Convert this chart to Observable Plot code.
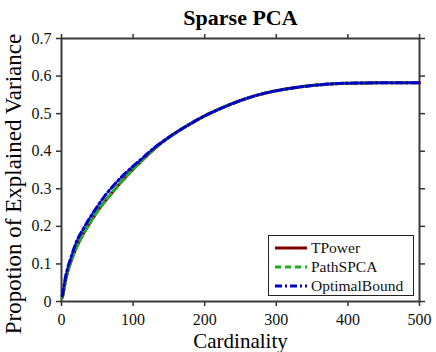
<!DOCTYPE html>
<html>
<head>
<meta charset="utf-8">
<script src="https://cdn.jsdelivr.net/npm/d3@7"></script>
<script src="https://cdn.jsdelivr.net/npm/@observablehq/plot@0.6"></script>
<style>
  html, body { margin: 0; padding: 0; background: white; }
  #wrap { position: relative; width: 436px; height: 352px; font-family: "Liberation Serif", "Times New Roman", Times, serif; }
  #legend { position: absolute; left: 268px; top: 235px; width: 144px; height: 59px; border: 1.5px solid #222; background: white; font-size: 15.5px; color: #111; }
  .row { position: absolute; left: 5px; height: 19px; display: flex; align-items: center; }
  .row svg { margin-right: 3px; }
</style>
</head>
<body>
<div id="wrap"><div id="legend"></div></div>
<script>
const titleText = "Sparse PCA";
const xLabel = "Cardinality";
const yLabel = "Propotion of Explained Variance";
const xTicks = [0, 100, 200, 300, 400, 500];
const yTicks = [0, 0.1, 0.2, 0.3, 0.4, 0.5, 0.6, 0.7];
const seriesNames = ["TPower", "PathSPCA", "OptimalBound"];
const seriesColors = ["#800000", "#1fae1f", "#0000c8"];
const seriesDash = [null, "6,4", "7,3,2,3"];

const cardinality = [1, 2, 5, 8, 12, 20, 30, 40, 50, 60, 70, 80, 90, 100, 115, 130, 150, 165, 180, 200, 225, 250, 275, 300, 325, 350, 375, 400, 450, 500];
const tpower      = [0.01, 0.017, 0.05, 0.075, 0.1, 0.14, 0.178, 0.21, 0.24, 0.265, 0.288, 0.311, 0.332, 0.352, 0.38, 0.407, 0.437, 0.456, 0.473, 0.494, 0.516, 0.535, 0.55, 0.561, 0.569, 0.575, 0.579, 0.581, 0.582, 0.582];
const pathspca    = [0.01, 0.017, 0.05, 0.075, 0.1, 0.14, 0.178, 0.21, 0.24, 0.265, 0.288, 0.311, 0.332, 0.352, 0.38, 0.407, 0.437, 0.456, 0.473, 0.494, 0.516, 0.535, 0.55, 0.561, 0.569, 0.575, 0.579, 0.581, 0.582, 0.582];
const optimal     = [0.015, 0.025, 0.06, 0.085, 0.11, 0.155, 0.192, 0.224, 0.253, 0.28, 0.303, 0.324, 0.343, 0.36, 0.385, 0.41, 0.437, 0.456, 0.473, 0.494, 0.516, 0.535, 0.55, 0.561, 0.569, 0.575, 0.579, 0.581, 0.582, 0.582];

const allSeries = [tpower, pathspca, optimal];
const data = allSeries.map(vals => cardinality.map((c, i) => ({x: c, y: vals[i]})));

const axisColor = "#333";
const font = "'Liberation Serif', 'Times New Roman', Times, serif";

const chart = Plot.plot({
  width: 436,
  height: 352,
  marginLeft: 61,
  marginRight: 17,
  marginTop: 38,
  marginBottom: 51,
  style: {fontFamily: font, fontSize: "16px", background: "white", color: "#111"},
  x: {domain: [0, 500]},
  y: {domain: [0, 0.7]},
  marks: [
    Plot.axisX({ticks: xTicks, tickSize: 5, tickPadding: 7, label: null, stroke: axisColor, strokeWidth: 1.5, fontSize: 16}),
    Plot.axisX({anchor: "top", ticks: xTicks, tickSize: 5, tickFormat: () => "", label: null, stroke: axisColor, strokeWidth: 1.5}),
    Plot.axisY({ticks: yTicks, tickSize: 5, tickPadding: 5, label: null, stroke: axisColor, strokeWidth: 1.5, fontSize: 16,
      tickFormat: d => d === 0 ? "0" : d3.format(".1f")(d)}),
    Plot.axisY({anchor: "right", ticks: yTicks, tickSize: 5, tickFormat: () => "", label: null, stroke: axisColor, strokeWidth: 1.5}),
    Plot.frame({stroke: "#3a3a3a", strokeWidth: 2}),
    ...data.map((d, i) => Plot.line(d, {
      x: "x", y: "y", stroke: seriesColors[i], strokeWidth: 3,
      strokeDasharray: seriesDash[i] || undefined, curve: "monotone-x"
    })),
    Plot.text([titleText], {frameAnchor: "top", lineAnchor: "middle", textAnchor: "middle", dy: -20.5, fontSize: 22, fontWeight: "bold", fill: "#000"}),
    Plot.text([xLabel], {frameAnchor: "bottom", lineAnchor: "middle", textAnchor: "middle", dy: 40, fontSize: 21, fill: "#000"}),
    Plot.text([yLabel], {frameAnchor: "left", lineAnchor: "middle", textAnchor: "middle", dx: -48, dy: 14, rotate: -90, fontSize: 23, fill: "#000"})
  ]
});
document.getElementById("wrap").prepend(chart);

const legend = document.getElementById("legend");
seriesNames.forEach((name, i) => {
  const row = document.createElement("div");
  row.className = "row";
  row.style.top = (2 + i * 19) + "px";
  const dash = seriesDash[i] ? `stroke-dasharray="${seriesDash[i]}"` : "";
  row.innerHTML = `<svg width="34" height="8"><line x1="1" y1="4" x2="33" y2="4" stroke="${seriesColors[i]}" stroke-width="3" ${dash}/></svg><span>${name}</span>`;
  legend.appendChild(row);
});
</script>
</body>
</html>
